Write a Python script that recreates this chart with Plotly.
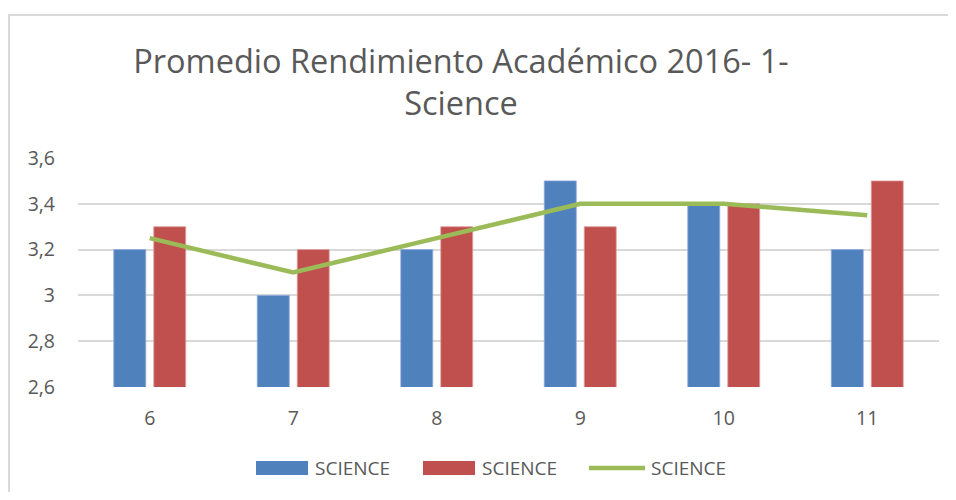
import plotly.graph_objects as go

categories = ["6", "7", "8", "9", "10", "11"]
science_a = [3.2, 3.0, 3.2, 3.5, 3.4, 3.2]
science_b = [3.3, 3.2, 3.3, 3.3, 3.4, 3.5]
science_avg = [3.25, 3.1, 3.25, 3.4, 3.4, 3.35]
series_names = ["SCIENCE", "SCIENCE", "SCIENCE"]
title_text = "Promedio Rendimiento Académico 2016- 1-<br>Science"

OFF = 8  # page body margin
W, H = 940, 484
# plot area in page coords: x 78..939, y 158..387
L, T = 78 - OFF, 158 - OFF
R = W - (939 - OFF)
B = H - (387 - OFF)
pw, ph = W - L - R, H - T - B

def px(x):  # page x -> paper
    return (x - OFF - L) / pw

def py(y):  # page y -> paper
    return (H - B - (y - OFF)) / ph

font = "Open Sans"
txt = "#595959"
colors = ["#4F81BD", "#C0504D", "#9BBB59"]

fig = go.Figure()
fig.add_trace(go.Bar(x=categories, y=science_a, name=series_names[0], showlegend=False,
                     marker=dict(color=colors[0], line=dict(color="#8FAADC", width=0.8))))
fig.add_trace(go.Bar(x=categories, y=science_b, name=series_names[1], showlegend=False,
                     marker=dict(color=colors[1], line=dict(color="#E0A0A0", width=0.8))))
fig.add_trace(go.Scatter(x=categories, y=science_avg, name=series_names[2], mode="lines",
                         showlegend=False, line=dict(color=colors[2], width=4.5)))

shapes = [
    dict(type="line", xref="paper", yref="paper", layer="below",
         x0=px(9), x1=px(9), y0=py(14), y1=py(H + OFF),
         line=dict(color="#D9D9D9", width=2)),
    dict(type="line", xref="paper", yref="paper", layer="below",
         x0=px(8), x1=px(W + OFF), y0=py(15), y1=py(15),
         line=dict(color="#D9D9D9", width=2)),
]
annotations = []
# manual legend (wide swatches as in reference)
legend_items = [(256, 308, 313, "bar"), (423, 475, 480, "bar"), (589, 645, 649, "line")]
ly = 468
for (sx0, sx1, tx, kind), c, name in zip(legend_items, colors, series_names):
    if kind == "bar":
        shapes.append(dict(type="rect", xref="paper", yref="paper",
                           x0=px(sx0), x1=px(sx1), y0=py(ly + 7), y1=py(ly - 7),
                           line=dict(width=0), fillcolor=c))
    else:
        shapes.append(dict(type="line", xref="paper", yref="paper",
                           x0=px(sx0), x1=px(sx1), y0=py(ly), y1=py(ly),
                           line=dict(color=c, width=4.5)))
    annotations.append(dict(text=name, xref="paper", yref="paper", x=px(tx), y=py(ly),
                            xanchor="left", yanchor="middle", showarrow=False,
                            font=dict(family=font, size=19, color=txt)))

fig.update_layout(
    width=W, height=H,
    margin=dict(l=L, r=R, t=T, b=B),
    paper_bgcolor="white", plot_bgcolor="white",
    separators=",.",
    barmode="group", bargap=0.443, bargroupgap=0.2,
    font=dict(family=font, color=txt, size=16),
    title=dict(text=title_text, x=(461 - OFF) / W, xanchor="center", xref="container",
               y=1 - (73 - OFF) / H, yanchor="middle", yref="container",
               font=dict(family=font, size=32.5, color=txt)),
    showlegend=False,
    xaxis=dict(showgrid=False, showline=False, ticks="", tickfont=dict(size=19.5, color=txt),
               ticklabelstandoff=17),
    yaxis=dict(range=[2.6, 3.6], dtick=0.2, tick0=2.6, showgrid=True, gridcolor="#D9D9D9",
               gridwidth=1.6, zeroline=False, showline=False, ticks="",
               tickfont=dict(size=19.5, color=txt), ticklabelstandoff=22),
    shapes=shapes,
    annotations=annotations,
)

fig.write_html("out.html")
